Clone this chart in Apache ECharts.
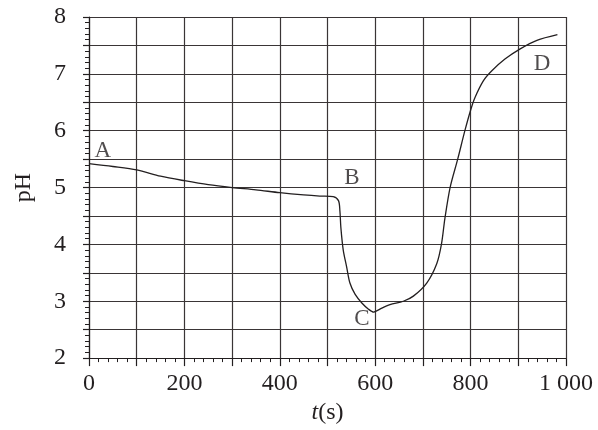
<!DOCTYPE html>
<html>
<head>
<meta charset="UTF-8">
<title>pH</title>
<script src="https://cdn.jsdelivr.net/npm/echarts@6/dist/echarts.min.js"></script>
<style>
  html, body { margin: 0; padding: 0; background: #fff; }
  #main { width: 598px; height: 430px; }
</style>
</head>
<body>
<div id="main"></div>
<script>
// 时间 (s) 和 pH 读数
var times = [0, 50, 100, 150, 200, 250, 300, 350, 400, 450, 484, 512, 523, 526, 528, 533, 540, 547, 558, 572, 586, 597, 603, 614, 631, 659, 680, 708, 729, 739, 746, 757, 773, 788, 800, 809, 827, 844, 872, 904, 939, 982];
var phValues = [5.42, 5.37, 5.31, 5.2, 5.12, 5.05, 5.0, 4.96, 4.91, 4.87, 4.85, 4.84, 4.77, 4.59, 4.3, 3.9, 3.61, 3.32, 3.12, 2.97, 2.86, 2.81, 2.83, 2.88, 2.94, 3.0, 3.09, 3.32, 3.66, 4.01, 4.45, 5.0, 5.5, 6.0, 6.36, 6.58, 6.88, 7.05, 7.26, 7.44, 7.59, 7.69];

// 标注点
var pointNames = ['A', 'B', 'C', 'D'];
var pointTimes = [29, 551, 572, 950];
var pointPh = [5.64, 5.17, 2.69, 7.17];

var serif = "'Liberation Serif', 'Times New Roman', serif";

var curve = [];
for (var i = 0; i < times.length; i++) {
  curve.push([times[i], phValues[i]]);
}
var marks = [];
for (var j = 0; j < pointNames.length; j++) {
  marks.push({ name: pointNames[j], value: [pointTimes[j], pointPh[j]] });
}

var myChart = echarts.init(document.getElementById('main'));

var option = {
  backgroundColor: '#fff',
  animation: false,
  grid: { left: 89, right: 32, top: 17, bottom: 68 },
  xAxis: {
    type: 'value',
    min: 0,
    max: 1000,
    interval: 100,
    name: '{i|t}(s)',
    nameLocation: 'middle',
    nameGap: 40,
    nameTextStyle: {
      fontFamily: serif, fontSize: 24, color: '#231f20',
      rich: { i: { fontFamily: serif, fontSize: 24, fontStyle: 'italic', color: '#231f20' } }
    },
    axisLine: { show: true, lineStyle: { color: '#231f20', width: 1.2 } },
    axisTick: { show: true, length: 8, lineStyle: { color: '#231f20', width: 1.2 } },
    minorTick: { show: true, splitNumber: 5, length: 4, lineStyle: { color: '#231f20', width: 1 } },
    axisLabel: {
      margin: 14,
      fontFamily: serif, fontSize: 24, color: '#231f20',
      formatter: function (v) {
        if (v % 200 !== 0) return '';
        return v === 1000 ? '1 000' : String(v);
      }
    },
    splitLine: { show: true, lineStyle: { color: '#3a3536', width: 1.2 } }
  },
  yAxis: {
    type: 'value',
    min: 2,
    max: 8,
    interval: 0.5,
    offset: 11,
    name: 'pH',
    nameLocation: 'middle',
    nameGap: 42,
    nameTextStyle: { fontFamily: serif, fontSize: 24, color: '#231f20' },
    axisLine: { show: true, lineStyle: { color: '#231f20', width: 1.2 } },
    axisTick: { show: true, length: 6, lineStyle: { color: '#231f20', width: 1.2 } },
    minorTick: { show: true, splitNumber: 5, length: 4, lineStyle: { color: '#231f20', width: 1 } },
    axisLabel: {
      margin: 12,
      fontFamily: serif, fontSize: 24, color: '#231f20',
      formatter: function (v) {
        return v % 1 === 0 ? String(v) : '';
      }
    },
    splitLine: { show: true, lineStyle: { color: '#3a3536', width: 1.2 } }
  },
  series: [
    {
      type: 'line',
      data: curve,
      smooth: 0.3,
      symbol: 'none',
      lineStyle: { color: '#231f20', width: 1.3 }
    },
    {
      type: 'scatter',
      data: marks,
      symbolSize: 0,
      label: {
        show: true,
        position: 'inside',
        formatter: '{b}',
        fontFamily: serif, fontSize: 23, color: '#231f20'
      }
    }
  ]
};

myChart.setOption(option);
</script>
</body>
</html>
